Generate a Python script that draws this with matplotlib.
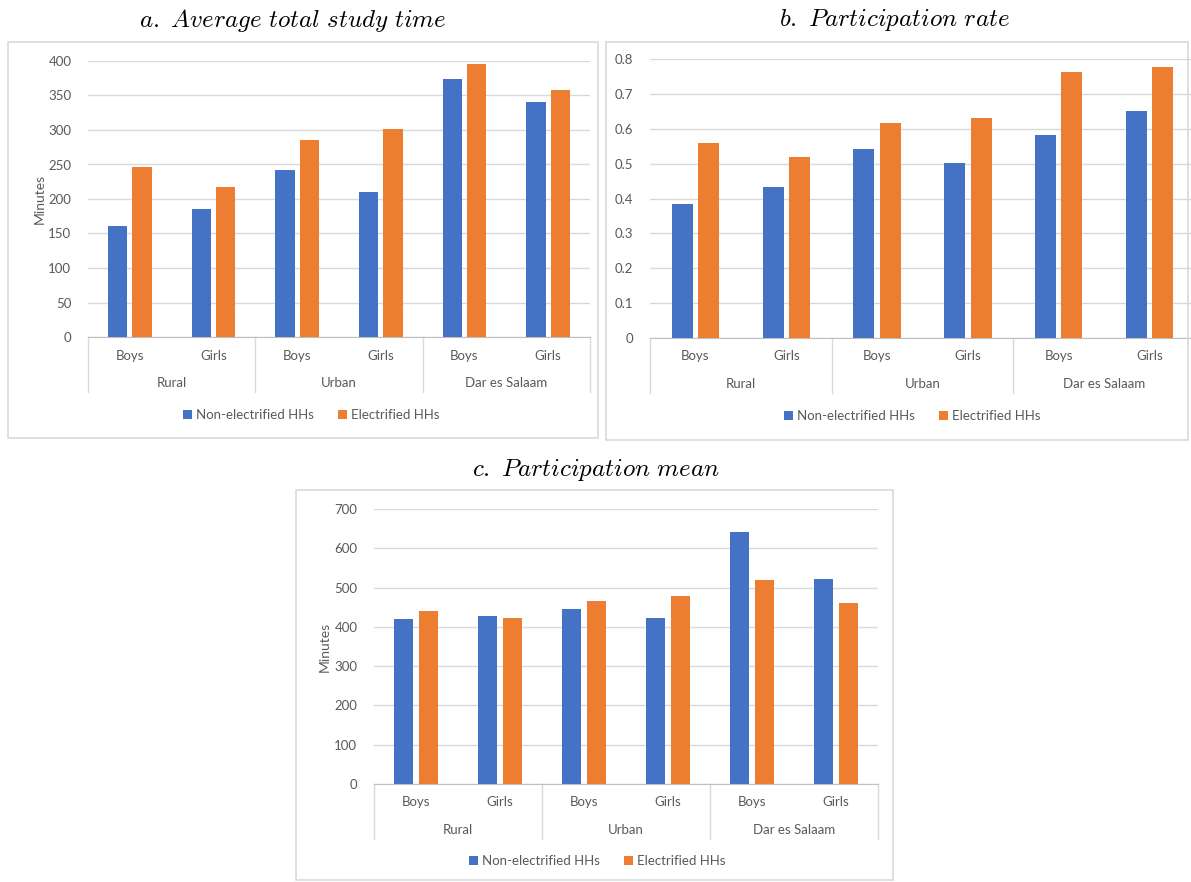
import matplotlib
matplotlib.use("Agg")
import matplotlib.pyplot as plt
from matplotlib.patches import Rectangle
from matplotlib.transforms import blended_transform_factory
import numpy as np

plt.rcParams['font.family'] = ['Lato', 'DejaVu Sans']
plt.rcParams['mathtext.fontset'] = 'cm'

# ---- data ----
subgroups = ["Boys", "Girls", "Boys", "Girls", "Boys", "Girls"]
groups = ["Rural", "Urban", "Dar es Salaam"]
series_names = ["Non-electrified HHs", "Electrified HHs"]

study_time_non = [161, 186, 242, 210, 374, 341]
study_time_elec = [247, 218, 286, 302, 395, 358]

part_rate_non = [0.384, 0.434, 0.543, 0.501, 0.582, 0.650]
part_rate_elec = [0.559, 0.518, 0.616, 0.632, 0.764, 0.778]

part_mean_non = [419, 427, 445, 422, 642, 523]
part_mean_elec = [441, 422, 466, 478, 520, 460]

titles = [r"$\mathit{a.\ Average\ total\ study\ time}$",
          r"$\mathit{b.\ Participation\ rate}$",
          r"$\mathit{c.\ Participation\ mean}$"]

BLUE = "#4472C4"
ORANGE = "#ED7D31"
GRID = "#D9D9D9"
TXT = "#595959"

W, H = 1191, 882
fig = plt.figure(figsize=(W / 100, H / 100), dpi=100)
fig.patch.set_facecolor("white")


def px_rect(l, t, r, b):
    return [l / W, 1 - b / H, (r - l) / W, (b - t) / H]


def add_border(l, t, r, b):
    fig.patches.append(Rectangle((l / W, 1 - b / H), (r - l) / W, (b - t) / H,
                                 transform=fig.transFigure, fill=False,
                                 edgecolor=GRID, linewidth=1.2))


def panel(rect_px, non, elec, ymax, ystep, yfmt, ylabel, ylabel_x, legend_xy, title, title_xy):
    l, t, r, b = rect_px
    ax = fig.add_axes(px_rect(l, t, r, b))
    x = np.arange(len(subgroups))
    off, w = 0.145, 0.23
    ax.bar(x - off, non, w, color=BLUE, label=series_names[0], zorder=3)
    ax.bar(x + off, elec, w, color=ORANGE, label=series_names[1], zorder=3)
    ax.set_xlim(-0.5, len(subgroups) - 0.5)
    ax.set_ylim(0, ymax)
    ticks = np.arange(0, ymax + ystep / 2, ystep)
    ax.set_yticks(ticks)
    ax.set_yticklabels([yfmt(v) for v in ticks], color=TXT, fontsize=9.5)
    ax.yaxis.grid(True, color=GRID, linewidth=1.0, zorder=0)
    ax.set_axisbelow(True)
    for s in ["top", "right", "left"]:
        ax.spines[s].set_visible(False)
    ax.spines["bottom"].set_color("#BFBFBF")
    ax.tick_params(axis="y", length=0, pad=12)
    ax.tick_params(axis="x", length=0, pad=9)
    ax.set_xticks(x)
    ax.set_xticklabels(subgroups, color=TXT, fontsize=9.5)
    if ylabel:
        fig.text(ylabel_x / W, 1 - ((t + b) / 2) / H, ylabel, rotation=90,
                 ha="center", va="center", color=TXT, fontsize=10)
    hpx = b - t
    trans = blended_transform_factory(ax.transData, ax.transAxes)
    for bnd in [-0.5, 1.5, 3.5, 5.5]:
        ax.plot([bnd, bnd], [0, -55 / hpx], transform=trans, color=GRID,
                linewidth=1.0, clip_on=False)
    for i, g in enumerate(groups):
        ax.text(2 * i + 0.5, -46 / hpx, g, transform=trans, ha="center",
                va="center", color=TXT, fontsize=9.5)
    ax.legend(loc="center", bbox_to_anchor=(legend_xy[0] / W, 1 - legend_xy[1] / H),
              bbox_transform=fig.transFigure, ncol=2, frameon=False,
              handlelength=0.7, handleheight=0.7, handletextpad=0.3,
              columnspacing=1.8, fontsize=9.5, labelcolor=TXT)
    fig.text(title_xy[0] / W, 1 - title_xy[1] / H, title, ha="center",
             va="center", fontsize=18, color="black")
    return ax


add_border(8, 42, 598, 438)
add_border(606, 42, 1188, 440)
add_border(296, 490, 893, 880)

panel((88, 61, 590, 337), study_time_non, study_time_elec, 400, 50,
      lambda v: f"{int(v)}", "Minutes", 40, (311, 415), titles[0], (293, 20))
panel((650, 59, 1195, 338), part_rate_non, part_rate_elec, 0.8, 0.1,
      lambda v: "0" if v == 0 else f"{v:.1f}", None, None, (912, 416), titles[1], (895, 20))
panel((374, 509, 878, 784), part_mean_non, part_mean_elec, 700, 100,
      lambda v: f"{int(v)}", "Minutes", 325, (597, 861), titles[2], (596, 470))

fig.savefig("out.png", dpi=100)
